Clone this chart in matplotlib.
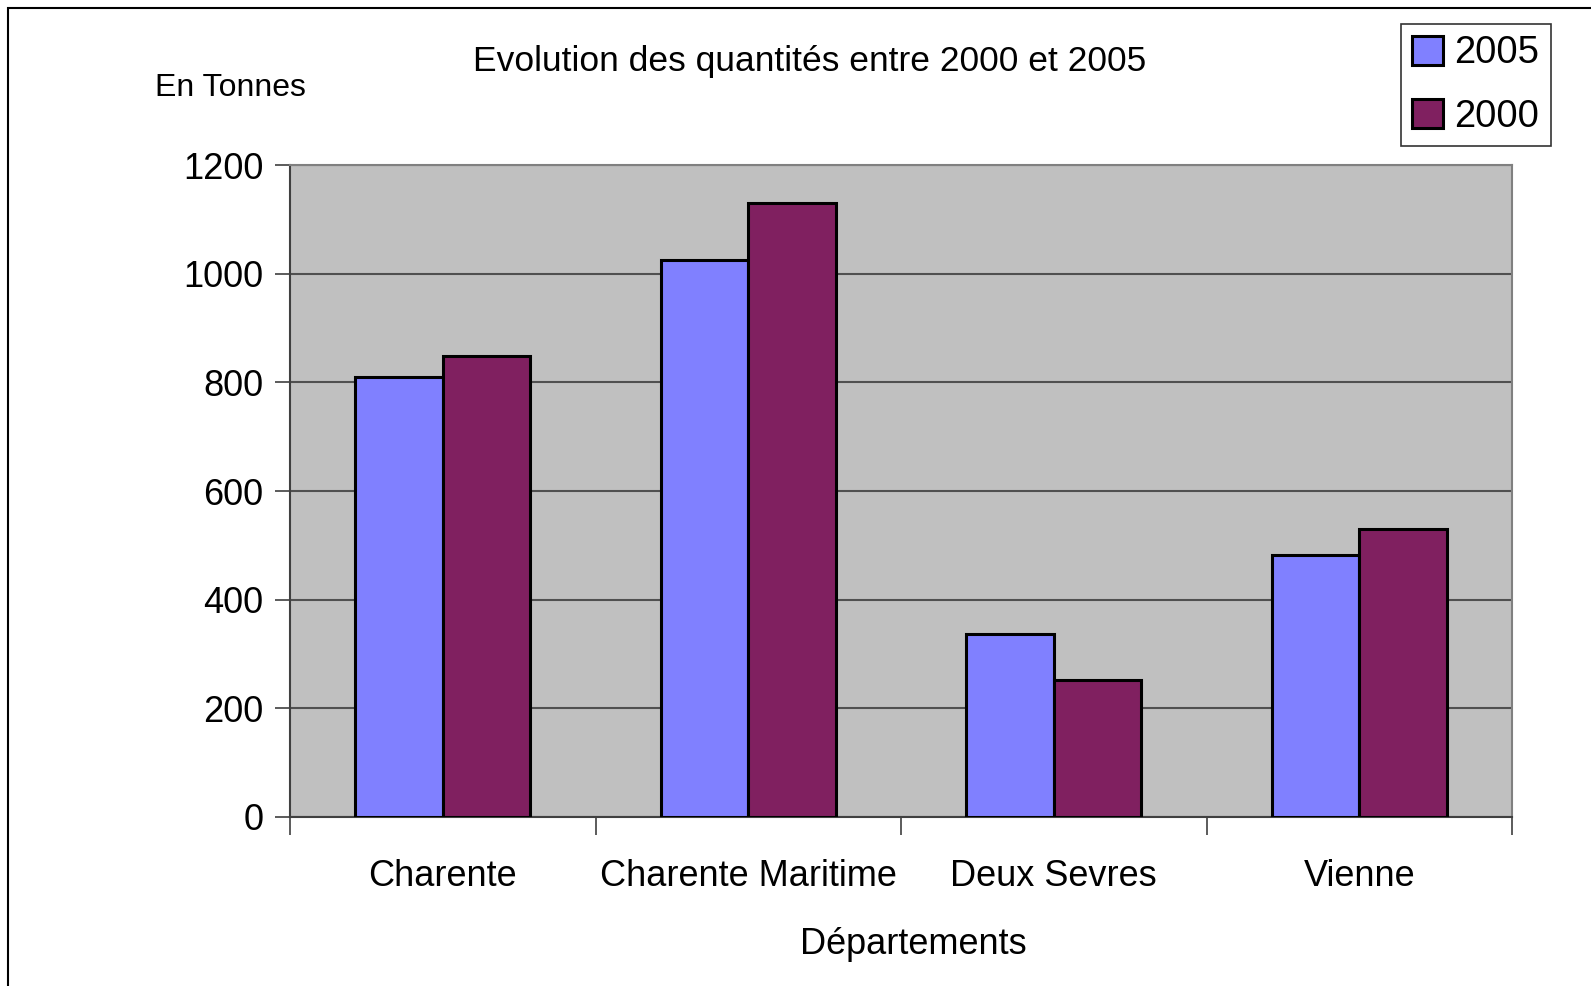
import matplotlib.pyplot as plt
import numpy as np
from matplotlib.patches import Rectangle

plt.rcParams['font.family'] = ['Liberation Sans', 'DejaVu Sans']

departements = ['Charente', 'Charente Maritime', 'Deux Sevres', 'Vienne']
q2005 = [810, 1025, 337, 483]
q2000 = [848, 1130, 253, 530]

W, H = 1591, 986
fig = plt.figure(figsize=(W / 100, H / 100), dpi=100)
ax = fig.add_axes([290 / W, 1 - 817 / H, (1512 - 290) / W, (817 - 165) / H])

x = np.arange(len(departements))
w = 0.287
b1 = ax.bar(x - w / 2, q2005, w, color='#8080FF', edgecolor='black', linewidth=2.2, label='2005', zorder=3)
b2 = ax.bar(x + w / 2, q2000, w, color='#802060', edgecolor='black', linewidth=2.2, label='2000', zorder=3)

ax.set_facecolor('#C0C0C0')
ax.set_xlim(-0.5, 3.5)
ax.set_ylim(0, 1200)
ax.set_yticks(range(0, 1201, 200))
ax.yaxis.grid(True, color='#505050', linewidth=1.5, zorder=1)
ax.set_axisbelow(True)

ax.set_xticks(x)
ax.set_xticklabels(departements)
ax.set_xticks(np.arange(-0.5, 4, 1), minor=True)
ax.tick_params(axis='x', which='major', length=0, pad=30, labelsize=26)
ax.tick_params(axis='x', which='minor', length=13, width=1.2, color='#404040')
ax.tick_params(axis='y', length=11, width=1.2, color='#404040', labelsize=26, pad=8)

for s in ['left', 'bottom']:
    ax.spines[s].set_color('#404040')
    ax.spines[s].set_linewidth(1.5)
for s in ['right', 'top']:
    ax.spines[s].set_color('#808080')
    ax.spines[s].set_linewidth(1.5)

fig.text(810 / W, 1 - 61 / H, 'Evolution des quantités entre 2000 et 2005', ha='center', va='center', fontsize=25.5)
fig.text(230 / W, 1 - 88 / H, 'En Tonnes', ha='center', va='center', fontsize=23)
fig.text(913 / W, 1 - 945 / H, 'Départements', ha='center', va='center', fontsize=26)

leg = fig.legend(handles=[b1, b2], loc='upper left', bbox_to_anchor=(1401 / W, 1 - 24 / H),
                 fontsize=27.5, frameon=True, fancybox=False, edgecolor='black',
                 handlelength=0.8, handleheight=0.8, handletextpad=0.3, labelspacing=0.72,
                 borderpad=0.3, borderaxespad=0)
leg.get_frame().set_linewidth(1.2)

fig.patches.append(Rectangle((8 / W, -0.1), 1.2, 1.1 - 8 / H, transform=fig.transFigure,
                             fill=False, edgecolor='black', linewidth=1.5))

fig.savefig('out.png', dpi=100)
